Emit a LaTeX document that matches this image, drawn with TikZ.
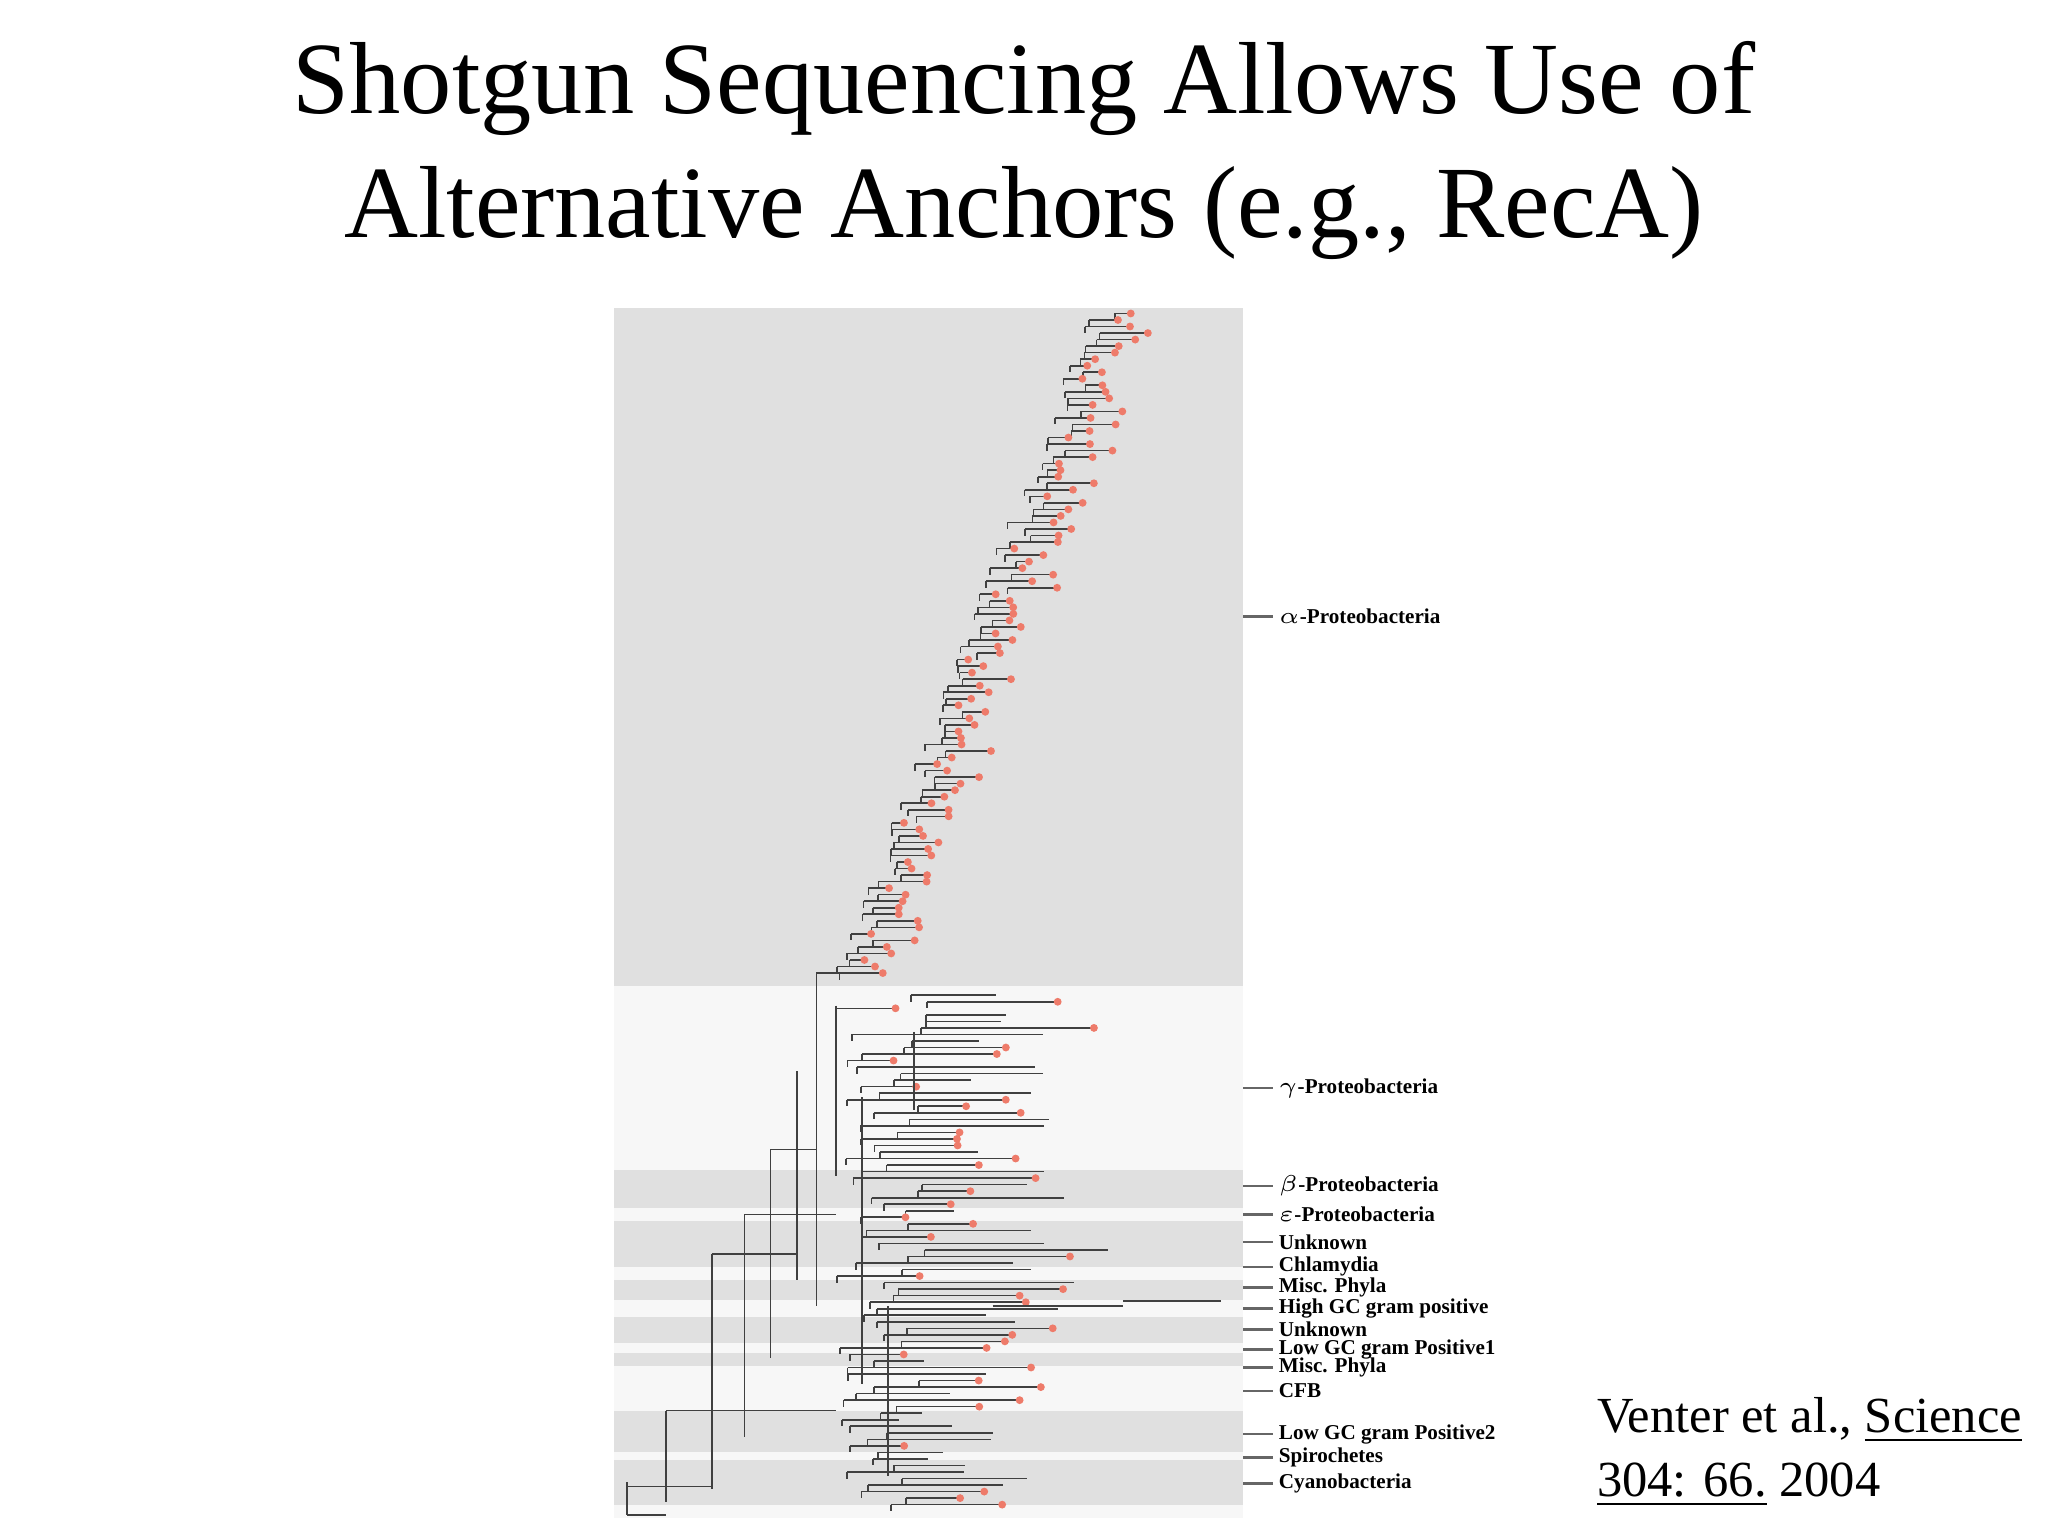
\documentclass[tikz,border=0pt]{standalone}
\usepackage{fontspec}
\setmainfont{Liberation Serif}
\definecolor{bandA}{HTML}{E0E0E0}
\definecolor{bandB}{HTML}{F7F7F7}
\definecolor{tipc}{HTML}{EE7B6A}
\tikzset{br/.style={draw=black!75,line width=0.35pt},
 tip/.style={fill=tipc},
 lab/.style={anchor=west,font=\fontsize{4.6}{5}\selectfont\bfseries,inner sep=1pt},
 lead/.style={draw=black!60,line width=0.6pt}}
\begin{document}
\begin{tikzpicture}[x=0.01cm,y=-0.01cm]
\useasboundingbox (0,0) rectangle (1568,1176);
\fill[white] (0,0) rectangle (1568,1176);
\node[font=\fontsize{22.3}{27}\selectfont,align=center] (title) at (784,115) {Shotgun Sequencing Allows Use of\\Alternative Anchors (e.g., RecA)};
% bands
\fill[bandA] (470,236) rectangle (952,755);
\fill[bandB] (470,755) rectangle (952,1162);
\foreach \a/\b in {896/925,935/970,980/995,1008/1028,1036/1046,1080/1112,1118/1152}
  \fill[bandA] (470,\a) rectangle (952,\b);
\pgfmathsetseed{7}
% alpha clade
\draw[br] (625,745) -- (625,1000);
\foreach \y in {240,245,...,745} {
  \pgfmathsetmacro\sx{650+(745-\y)*0.3838+rnd*25-12}
  \pgfmathsetmacro\lx{\sx+8+rnd*30}
  \draw[br] (\sx,\y) -- (\lx,\y) (\sx,\y) -- (\sx,\y+5);
  \fill[tip] (\lx,\y) circle (3);
}
\draw[br] (625,745) -- (650,745);
% lower clades
\foreach \y in {762,767,...,1152} {
  \pgfmathsetmacro\bx{640+rnd*70}
  \pgfmathsetmacro\lx{\bx+30+rnd*120}
  \draw[br] (\bx,\y) -- (\lx,\y) (\bx,\y) -- (\bx,\y+5);
  \pgfmathsetmacro\r{rnd}
  \ifdim\r pt>0.55pt \fill[tip] (\lx,\y) circle (3); \fi
}
\draw[br] (760,1000) -- (860,1000) (860,996) -- (935,996);
\foreach \x/\a/\b in {480/1135/1160,510/1080/1150,545/960/1140,570/930/1100,590/880/1040,610/820/980,625/750/930,640/770/900,660/840/1060,680/1000/1130,700/790/850}
  \draw[br] (\x,\a) -- (\x,\b);
\draw[br] (480,1160) -- (510,1160) (480,1138)--(545,1138) (510,1080)--(640,1080) (545,960)--(610,960) (570,930)--(640,930) (590,880)--(625,880);
% labels
\foreach \n/\y/\t in {a/472/$\alpha$-Proteobacteria,g/833/$\gamma$-Proteobacteria,b/908/$\beta$-Proteobacteria,e/930/$\varepsilon$-Proteobacteria,u1/951/Unknown,c/970/Chlamydia,m1/986/Misc. Phyla,h/1002/High GC gram positive,u2/1018/Unknown,l1/1033/Low GC gram Positive1,m2/1047/Misc. Phyla,f/1065/CFB,l2/1098/Low GC gram Positive2,s/1116/Spirochetes,cy/1136/Cyanobacteria} {
  \node[lab] (L\n) at (975,\y) {\t};
  \draw[lead] (952,\y) -- (L\n.west);
}
\node[anchor=base west,font=\fontsize{11}{13}\selectfont,inner sep=0pt] (cite) at (1222,1097) {Venter et al., \underline{Science}};
\node[anchor=base west,font=\fontsize{11}{13}\selectfont,inner sep=0pt] (cite2) at (1222,1146) {\underline{304: 66.} 2004};
\end{tikzpicture}
\end{document}
